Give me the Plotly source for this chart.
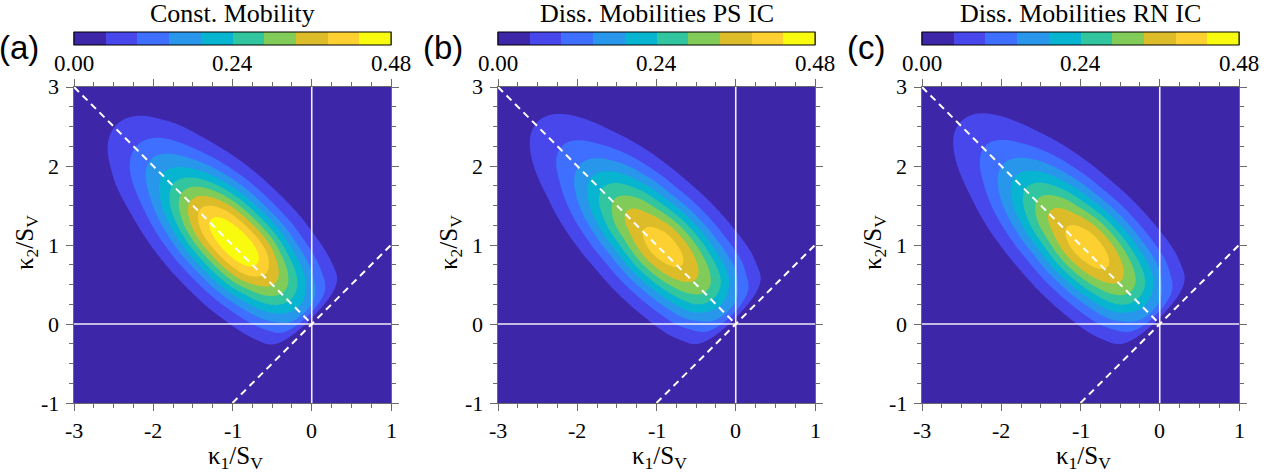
import numpy as np
import plotly.graph_objects as go

W, H = 1277, 475

panel_tags = ["(a)", "(b)", "(c)"]
panel_titles = ["Const. Mobility", "Diss. Mobilities PS IC", "Diss. Mobilities RN IC"]

# Density along the ridge kappa1 = -kappa2, indexed by (kappa2 - kappa1)/S_V
ridge_diff = [0.0, 0.25, 0.5, 0.75, 1.0, 1.25, 1.5, 1.75, 2.0, 2.25, 2.5, 2.75, 3.0,
              3.25, 3.5, 3.75, 4.0, 4.25, 4.5, 4.75, 5.0, 5.25, 5.5, 5.75, 6.0, 6.25]
ridge_const = [0.0, 0.15, 0.22, 0.285, 0.34, 0.39, 0.44, 0.465, 0.472, 0.465, 0.445, 0.405, 0.355,
               0.30, 0.245, 0.198, 0.16, 0.125, 0.092, 0.068, 0.047, 0.030, 0.018, 0.010, 0.005, 0.0]
ridge_ps = [0.0, 0.14, 0.21, 0.28, 0.325, 0.362, 0.392, 0.410, 0.413, 0.395, 0.368, 0.343, 0.305,
            0.266, 0.222, 0.180, 0.142, 0.115, 0.091, 0.070, 0.052, 0.036, 0.022, 0.012, 0.006, 0.0]
ridge_rn = [0.0, 0.14, 0.212, 0.282, 0.33, 0.367, 0.397, 0.414, 0.417, 0.400, 0.372, 0.345, 0.307,
            0.267, 0.224, 0.182, 0.144, 0.116, 0.092, 0.071, 0.053, 0.036, 0.022, 0.012, 0.006, 0.0]
ridges = [ridge_const, ridge_ps, ridge_rn]

# Spread and offset across the ridge, in (kappa1 + kappa2)/S_V
cross_width = [0.55, 0.56, 0.56]
cross_shift = [0.06, 0.06, 0.06]

level_step = 0.048
level_max = 0.48
level_colors = ["#3E26A8", "#4847EB", "#3E6FFF", "#2796EB", "#08B5D0",
                "#31C69F", "#81CC59", "#DCBD29", "#FCD030", "#F9FB0E"]
cbar_ticks = [0.0, 0.24, 0.48]
cbar_text = ["0.00", "0.24", "0.48"]
x_ticks = [-3, -2, -1, 0, 1]
y_ticks = [-1, 0, 1, 2, 3]
minor_step = 0.25
x_range = [-3, 1]
y_range = [-1, 3]

# pixel layout of the three panels
panel_left = [74, 498, 922]
panel_size = 317
plot_top, plot_bottom = 87, 403
cbar_top, cbar_thick = 32, 13

SERIF = "Liberation Serif"
SANS = "Liberation Sans"
AXIS_GREY = "#6a6a6a"


def ridge_profile(knots, values, s):
    """Cubic Hermite evaluation of the tabulated ridge density."""
    knots = np.asarray(knots, float)
    values = np.asarray(values, float)
    slopes = np.gradient(values, knots)
    idx = np.clip(np.searchsorted(knots, s) - 1, 0, len(knots) - 2)
    h = knots[idx + 1] - knots[idx]
    t = np.clip((s - knots[idx]) / h, 0.0, 1.0)
    t2, t3 = t * t, t * t * t
    out = ((2 * t3 - 3 * t2 + 1) * values[idx] + (t3 - 2 * t2 + t) * h * slopes[idx]
           + (-2 * t3 + 3 * t2) * values[idx + 1] + (t3 - t2) * h * slopes[idx + 1])
    out = np.where((s < knots[0]) | (s > knots[-1]), 0.0, out)
    return np.clip(out, 0.0, None)


k1 = np.linspace(x_range[0], x_range[1], 241)
k2 = np.linspace(y_range[0], y_range[1], 241)
K1, K2 = np.meshgrid(k1, k2)
diff = K2 - K1
summ = K1 + K2

# stepped colour scale: one flat colour per contour band
n_bands = len(level_colors)
colorscale = []
for i, c in enumerate(level_colors):
    colorscale.append([i / n_bands, c])
    colorscale.append([(i + 1) / n_bands, c])

fig = go.Figure()
shapes = []
annotations = []


def label(text, **kw):
    font = kw.pop("font", dict(family=SERIF, size=22, color="black"))
    annotations.append(dict(text=text, showarrow=False, font=font, **kw))


ydom = [1 - plot_bottom / H, 1 - plot_top / H]
for p in range(3):
    ax = "" if p == 0 else str(p + 1)
    xr, yr = "x" + ax, "y" + ax
    x0 = panel_left[p]
    xdom = [x0 / W, (x0 + panel_size) / W]

    Z = ridge_profile(ridge_diff, ridges[p], diff) * np.exp(
        -((summ - cross_shift[p]) ** 2) / (2 * cross_width[p] ** 2))

    fig.add_trace(go.Contour(
        x=k1, y=k2, z=Z,
        xaxis=xr, yaxis=yr,
        zmin=0, zmax=level_max,
        autocontour=False,
        contours=dict(start=level_step, end=level_max - level_step, size=level_step,
                      coloring="fill", showlines=False),
        line=dict(width=0, smoothing=1),
        colorscale=colorscale,
        hoverinfo="skip",
        colorbar=dict(
            orientation="h",
            x=x0 / W, xanchor="left",
            y=1 - cbar_top / H, yanchor="top",
            len=panel_size, lenmode="pixels",
            thickness=cbar_thick, thicknessmode="pixels",
            xpad=0, ypad=0,
            outlinewidth=1, outlinecolor="black",
            tickmode="array", tickvals=cbar_ticks,
            ticks="", showticklabels=False,
        ),
    ))

    for name, dom, rng, tv, anchor in (("xaxis", xdom, x_range, x_ticks, yr),
                                       ("yaxis", ydom, y_range, y_ticks, xr)):
        fig.layout[name + ax] = dict(
            domain=dom, range=rng, anchor=anchor,
            tickmode="array", tickvals=tv, showticklabels=False,
            showline=True, linecolor=AXIS_GREY, linewidth=1, mirror="ticks",
            ticks="outside", ticklen=7, tickwidth=1, tickcolor=AXIS_GREY,
            minor=dict(tickmode="linear", tick0=rng[0], dtick=minor_step,
                       ticks="outside", ticklen=4, tickwidth=1, tickcolor=AXIS_GREY),
            showgrid=False, zeroline=False,
        )

    # tick labels
    for v in x_ticks:
        label(str(v), x=v, xref=xr, y=1 - 430 / H, yref="paper",
              xanchor="center", yanchor="middle")
    for v in y_ticks:
        label(str(v), x=(x0 - 13) / W, xref="paper", y=v, yref=yr,
              xanchor="right", yanchor="middle")

    # axes through the origin
    shapes.append(dict(type="line", xref=xr, yref=yr, x0=0, x1=0, y0=y_range[0], y1=y_range[1],
                       line=dict(color="rgba(255,255,255,0.92)", width=1.6)))
    shapes.append(dict(type="line", xref=xr, yref=yr, x0=x_range[0], x1=x_range[1], y0=0, y1=0,
                       line=dict(color="rgba(255,255,255,0.92)", width=1.6)))
    # kappa1 = -kappa2 and kappa1 = kappa2
    shapes.append(dict(type="line", xref=xr, yref=yr, x0=-3, y0=3, x1=0, y1=0,
                       line=dict(color="white", width=2, dash="7px,5px")))
    shapes.append(dict(type="line", xref=xr, yref=yr, x0=-1, y0=-1, x1=1, y1=1,
                       line=dict(color="white", width=2, dash="7px,5px")))

    # colour-bar tick marks and labels
    for v, txt in zip(cbar_ticks, cbar_text):
        fx = (x0 + panel_size * v / level_max) / W
        shapes.append(dict(type="line", xref="paper", yref="paper", x0=fx, x1=fx,
                           y0=1 - (cbar_top + cbar_thick) / H, y1=1 - cbar_top / H,
                           line=dict(color="black", width=1)))
        label(txt, x=fx, xref="paper", y=1 - 63 / H, yref="paper",
              xanchor="center", yanchor="middle",
              font=dict(family=SERIF, size=23, color="black"))

    cx = x0 + panel_size / 2
    label(panel_titles[p], x=cx / W, y=1 - 13 / H, xref="paper", yref="paper",
          xanchor="center", yanchor="middle",
          font=dict(family=SERIF, size=26, color="black"))
    label(panel_tags[p], x=(x0 - 77) / W, y=1 - 47 / H, xref="paper", yref="paper",
          xanchor="left", yanchor="middle",
          font=dict(family=SANS, size=33, color="black"))
    label("\u03ba<sub>1</sub>/S<sub>V</sub>", x=(cx + 3) / W, y=1 - 457 / H,
          xref="paper", yref="paper", xanchor="center", yanchor="middle",
          font=dict(family=SERIF, size=25, color="black"))
    label("\u03ba<sub>2</sub>/S<sub>V</sub>", x=(x0 - 47) / W, y=1 - 243 / H,
          xref="paper", yref="paper", xanchor="center", yanchor="middle",
          textangle=-90, font=dict(family=SERIF, size=25, color="black"))

fig.update_layout(
    width=W, height=H,
    font=dict(family=SERIF, size=22, color="black"),
    margin=dict(l=0, r=0, t=0, b=0, autoexpand=False),
    paper_bgcolor="white", plot_bgcolor="white",
    showlegend=False,
    shapes=shapes, annotations=annotations,
)

fig.write_html("out.html")
